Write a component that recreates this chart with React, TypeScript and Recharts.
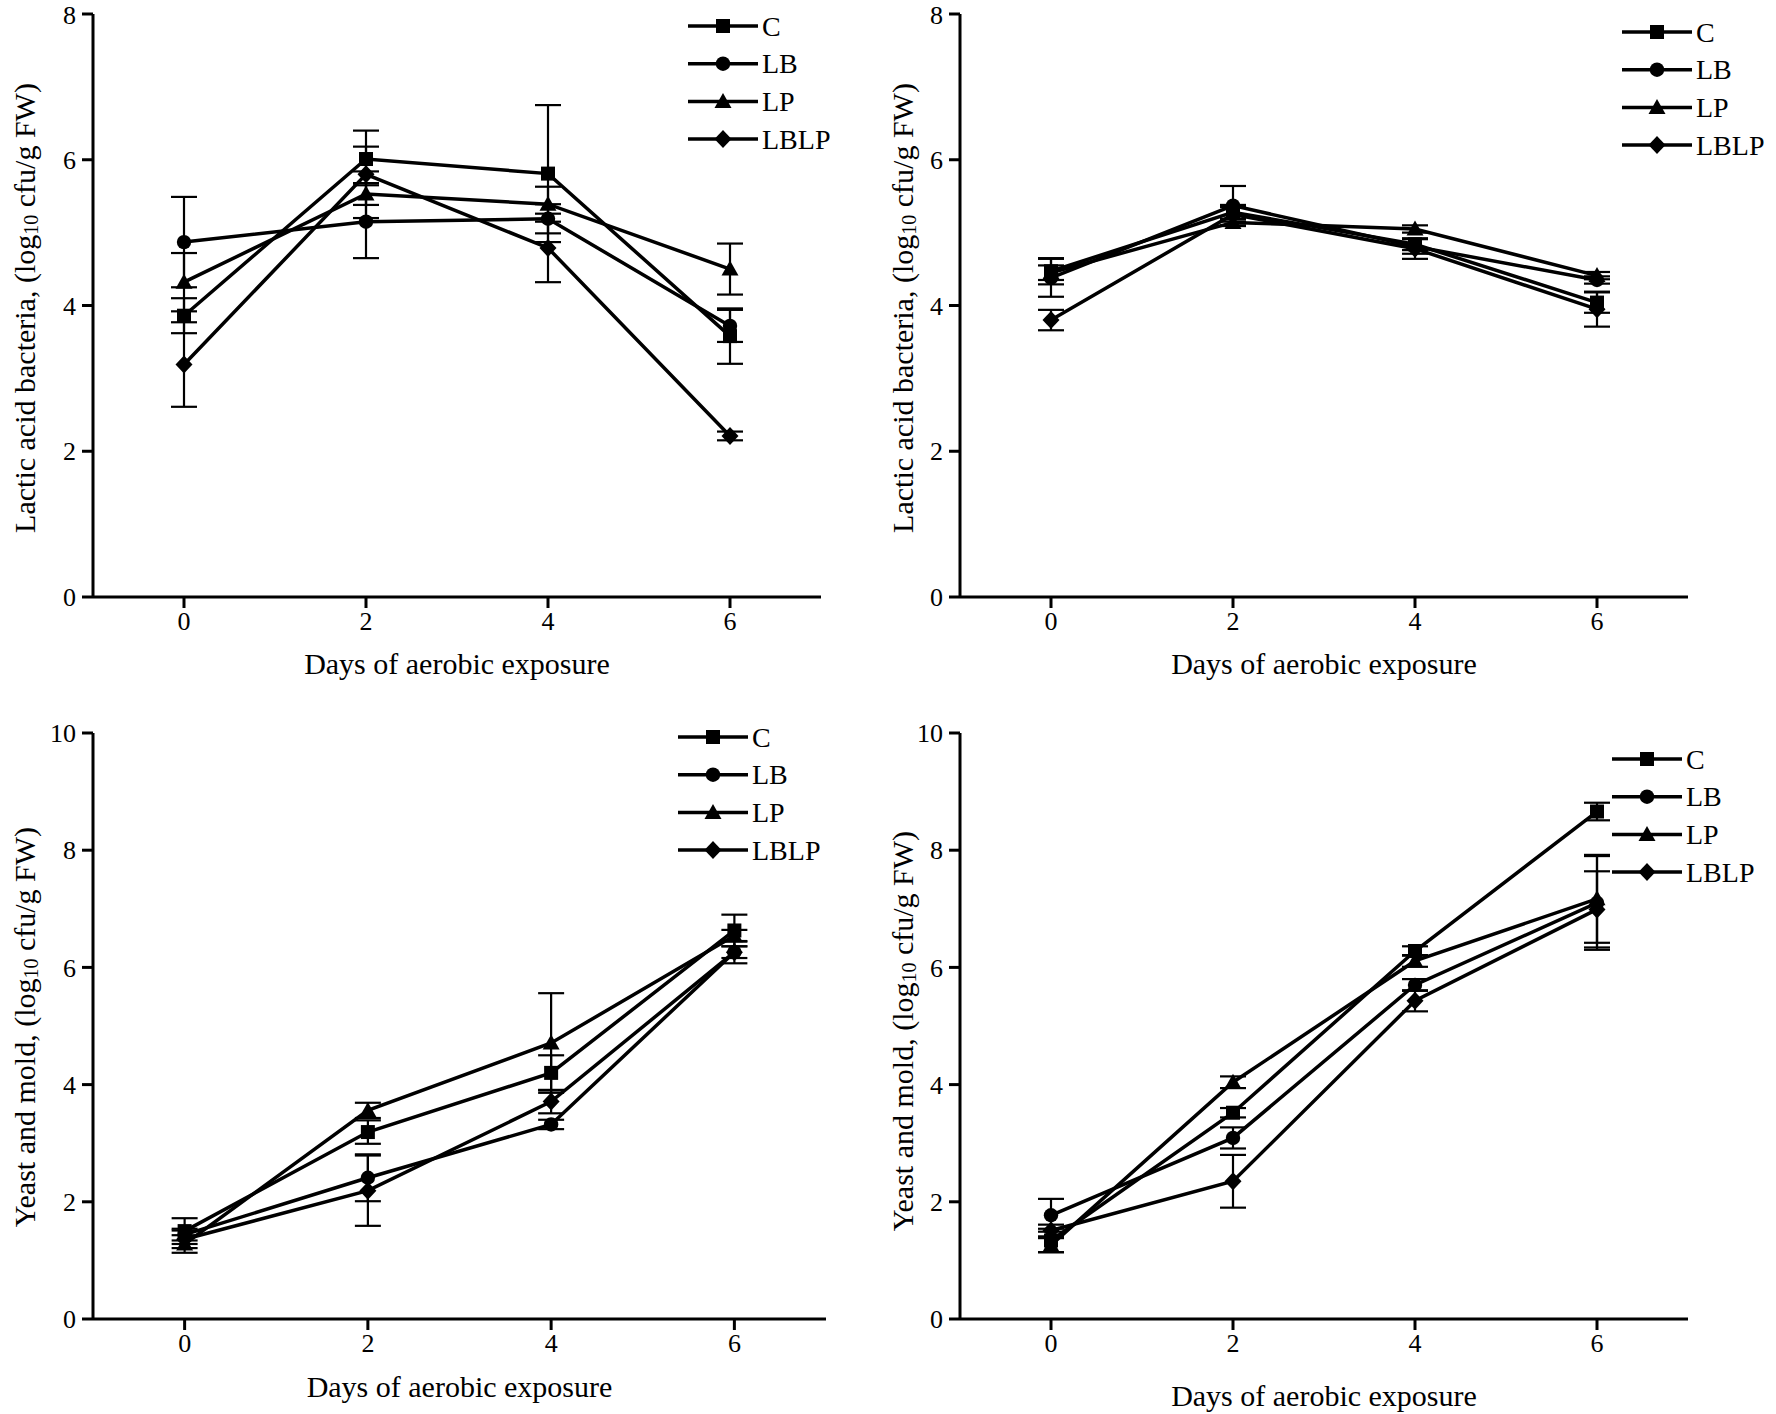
import React from "react";
import { LineChart, Line, XAxis, YAxis, ErrorBar, Label, Legend } from "recharts";

const days = [0, 2, 4, 6];
const seriesNames = ["C", "LB", "LP", "LBLP"];
const shapes = ["square", "circle", "triangle", "diamond"];

// lactic acid bacteria, left silage
const labLeftC = [3.86, 6.01, 5.81, 3.58];
const labLeftCErr = [0.24, 0.17, 0.94, 0.38];
const labLeftLB = [4.87, 5.15, 5.19, 3.72];
const labLeftLBErr = [0.62, 0.5, 0.2, 0.22];
const labLeftLP = [4.32, 5.53, 5.39, 4.5];
const labLeftLPErr = [0.4, 0.15, 0.24, 0.35];
const labLeftLBLP = [3.19, 5.8, 4.79, 2.21];
const labLeftLBLPErr = [0.58, 0.6, 0.47, 0.06];

// lactic acid bacteria, right silage
const labRightC = [4.47, 5.28, 4.84, 4.04];
const labRightCErr = [0.18, 0.1, 0.08, 0.14];
const labRightLB = [4.38, 5.37, 4.81, 4.35];
const labRightLBErr = [0.26, 0.27, 0.1, 0.05];
const labRightLP = [4.45, 5.14, 5.05, 4.41];
const labRightLPErr = [0.1, 0.05, 0.05, 0.05];
const labRightLBLP = [3.8, 5.25, 4.78, 3.95];
const labRightLBLPErr = [0.14, 0.1, 0.14, 0.24];

// yeast and mold, left silage
const ymLeftC = [1.5, 3.19, 4.2, 6.63];
const ymLeftCErr = [0.22, 0.2, 0.3, 0.27];
const ymLeftLB = [1.44, 2.41, 3.32, 6.26];
const ymLeftLBErr = [0.1, 0.4, 0.08, 0.19];
const ymLeftLP = [1.28, 3.56, 4.71, 6.54];
const ymLeftLPErr = [0.15, 0.13, 0.85, 0.1];
const ymLeftLBLP = [1.36, 2.19, 3.71, 6.26];
const ymLeftLBLPErr = [0.15, 0.6, 0.2, 0.1];

// yeast and mold, right silage
const ymRightC = [1.34, 3.52, 6.28, 8.66];
const ymRightCErr = [0.2, 0.08, 0.08, 0.15];
const ymRightLB = [1.77, 3.09, 5.7, 7.1];
const ymRightLBErr = [0.28, 0.18, 0.1, 0.8];
const ymRightLP = [1.26, 4.04, 6.11, 7.17];
const ymRightLPErr = [0.12, 0.1, 0.1, 0.75];
const ymRightLBLP = [1.51, 2.35, 5.43, 6.99];
const ymRightLBLPErr = [0.1, 0.45, 0.18, 0.65];

const labTicks = [0, 2, 4, 6, 8];
const ymTicks = [0, 2, 4, 6, 8, 10];
const xTicks = [0, 2, 4, 6];

const FONT = '"Liberation Serif", "Times New Roman", serif';

function buildRows(values: number[][], errors: number[][]) {
  return days.map((day, i) => {
    const row: Record<string, number> = { day };
    seriesNames.forEach((name, s) => {
      row[name] = values[s][i];
      row[name + "_err"] = errors[s][i];
    });
    return row;
  });
}

const labLeftData = buildRows(
  [labLeftC, labLeftLB, labLeftLP, labLeftLBLP],
  [labLeftCErr, labLeftLBErr, labLeftLPErr, labLeftLBLPErr]
);
const labRightData = buildRows(
  [labRightC, labRightLB, labRightLP, labRightLBLP],
  [labRightCErr, labRightLBErr, labRightLPErr, labRightLBLPErr]
);
const ymLeftData = buildRows(
  [ymLeftC, ymLeftLB, ymLeftLP, ymLeftLBLP],
  [ymLeftCErr, ymLeftLBErr, ymLeftLPErr, ymLeftLBLPErr]
);
const ymRightData = buildRows(
  [ymRightC, ymRightLB, ymRightLP, ymRightLBLP],
  [ymRightCErr, ymRightLBErr, ymRightLPErr, ymRightLBLPErr]
);

function Marker({ shape, cx, cy }: { shape: string; cx: number; cy: number }) {
  if (shape === "square") return <rect x={cx - 7} y={cy - 7} width={14} height={14} fill="#000" />;
  if (shape === "circle") return <circle cx={cx} cy={cy} r={7.2} fill="#000" />;
  if (shape === "triangle")
    return <polygon points={`${cx},${cy - 8.5} ${cx + 8.5},${cy + 6.5} ${cx - 8.5},${cy + 6.5}`} fill="#000" />;
  return <polygon points={`${cx},${cy - 9} ${cx + 8.5},${cy} ${cx},${cy + 9} ${cx - 8.5},${cy}`} fill="#000" />;
}

function LegendBox() {
  return (
    <svg width={200} height={156}>
      {seriesNames.map((name, i) => {
        const y = 19 + i * 37.7;
        return (
          <g key={name}>
            <line x1={0} y1={y} x2={70} y2={y} stroke="#000" strokeWidth={3.5} />
            <Marker shape={shapes[i]} cx={35} cy={y} />
            <text x={74} y={y} dominantBaseline="central" fontFamily={FONT} fontSize={28} fill="#000">
              {name}
            </text>
          </g>
        );
      })}
    </svg>
  );
}

type PanelProps = {
  left: number;
  top: number;
  width: number;
  height: number;
  margin: { top: number; right: number; bottom: number; left: number };
  data: Record<string, number>[];
  yMax: number;
  yTicks: number[];
  yTitle: string;
  yTitlePos: [number, number];
  xTitleOffset: number;
  legendPos: [number, number];
};

function Panel(p: PanelProps) {
  const [tx, ty] = p.yTitlePos;
  return (
    <div style={{ position: "absolute", left: p.left, top: p.top }}>
      <LineChart width={p.width} height={p.height} data={p.data} margin={p.margin}>
        <XAxis
          dataKey="day"
          type="number"
          domain={[-1, 7]}
          ticks={xTicks}
          allowDataOverflow
          height={40}
          tickSize={11}
          tickMargin={4}
          axisLine={{ stroke: "#000", strokeWidth: 3 }}
          tickLine={{ stroke: "#000", strokeWidth: 3 }}
          tick={{ fill: "#000", fontSize: 26, fontFamily: FONT }}
        >
          <Label
            content={({ viewBox }: any) => (
              <text
                x={viewBox.x + viewBox.width / 2}
                y={viewBox.y + p.xTitleOffset}
                textAnchor="middle"
                dominantBaseline="central"
                fontFamily={FONT}
                fontSize={30}
                fill="#000"
              >
                Days of aerobic exposure
              </text>
            )}
          />
        </XAxis>
        <YAxis
          type="number"
          domain={[0, p.yMax]}
          ticks={p.yTicks}
          width={50}
          tickSize={11}
          tickMargin={6}
          axisLine={{ stroke: "#000", strokeWidth: 3 }}
          tickLine={{ stroke: "#000", strokeWidth: 3 }}
          tick={{ fill: "#000", fontSize: 26, fontFamily: FONT }}
        >
          <Label
            content={() => (
              <text
                x={tx}
                y={ty}
                transform={`rotate(-90, ${tx}, ${ty})`}
                textAnchor="middle"
                dominantBaseline="central"
                fontFamily={FONT}
                fontSize={30}
                fill="#000"
              >
                <tspan>{p.yTitle}, (log</tspan>
                <tspan fontSize={20} dy={7}>10</tspan>
                <tspan dy={-7}> cfu/g FW)</tspan>
              </text>
            )}
          />
        </YAxis>
        <Legend
          layout="horizontal"
          verticalAlign="middle"
          align="center"
          wrapperStyle={{ left: p.legendPos[0], top: p.legendPos[1], width: 200, height: 156 }}
          content={() => <LegendBox />}
        />
        {seriesNames.map((name, i) => (
          <Line
            key={name}
            dataKey={name}
            stroke="#000"
            strokeWidth={3.5}
            isAnimationActive={false}
            activeDot={false}
            dot={(props: any) => (
              <Marker key={`${name}-${props.index}`} shape={shapes[i]} cx={props.cx} cy={props.cy} />
            )}
          >
            <ErrorBar dataKey={name + "_err"} direction="y" width={13} strokeWidth={2.2} stroke="#000" />
          </Line>
        ))}
      </LineChart>
    </div>
  );
}

export default function App() {
  return (
    <div
      style={{
        position: "absolute",
        left: 0,
        top: 0,
        width: 1776,
        height: 1414,
        background: "#fff",
        overflow: "hidden",
      }}
    >
      <Panel
        left={0}
        top={0}
        width={880}
        height={700}
        margin={{ top: 14, right: 59, bottom: 63, left: 43 }}
        data={labLeftData}
        yMax={8}
        yTicks={labTicks}
        yTitle="Lactic acid bacteria"
        yTitlePos={[24, 308]}
        xTitleOffset={66}
        legendPos={[688, 7]}
      />
      <Panel
        left={880}
        top={0}
        width={896}
        height={700}
        margin={{ top: 14, right: 88, bottom: 63, left: 30 }}
        data={labRightData}
        yMax={8}
        yTicks={labTicks}
        yTitle="Lactic acid bacteria"
        yTitlePos={[22, 308]}
        xTitleOffset={66}
        legendPos={[742, 13]}
      />
      <Panel
        left={0}
        top={700}
        width={880}
        height={714}
        margin={{ top: 33, right: 54, bottom: 55, left: 43 }}
        data={ymLeftData}
        yMax={10}
        yTicks={ymTicks}
        yTitle="Yeast and mold"
        yTitlePos={[24, 327]}
        xTitleOffset={67}
        legendPos={[678, 18]}
      />
      <Panel
        left={880}
        top={700}
        width={896}
        height={714}
        margin={{ top: 33, right: 88, bottom: 55, left: 30 }}
        data={ymRightData}
        yMax={10}
        yTicks={ymTicks}
        yTitle="Yeast and mold"
        yTitlePos={[22, 331]}
        xTitleOffset={76}
        legendPos={[732, 40]}
      />
    </div>
  );
}
